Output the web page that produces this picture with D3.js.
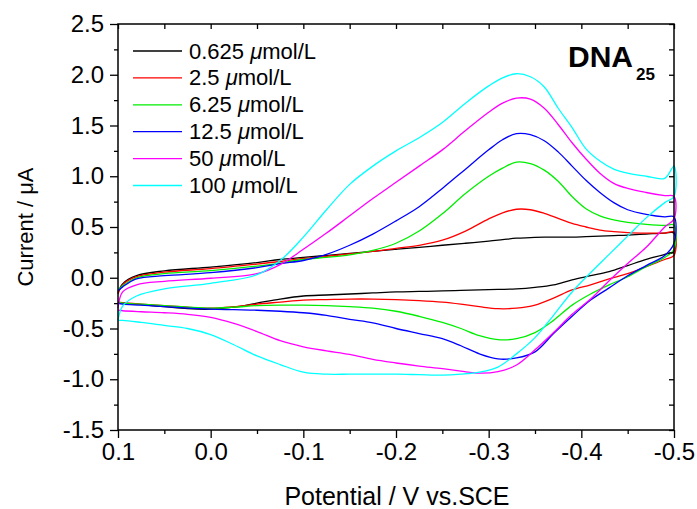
<!DOCTYPE html>
<html><head><meta charset="utf-8">
<script src="https://cdn.jsdelivr.net/npm/d3@7"></script>
<style>body{margin:0;background:#fff}</style>
</head><body>
<svg id="c" width="697" height="509"></svg>
<script>
// ---------- data ----------
const seriesLabels = ["0.625", "2.5", "6.25", "12.5", "50", "100"];
const seriesColors = ["#000000", "#ff0000", "#00ee00", "#0000ff", "#ff00ff", "#00ffff"];

const forwardPotential = [0.1, 0.095, 0.08, 0.05, 0.0, -0.05, -0.075, -0.1, -0.125, -0.15, -0.175, -0.2, -0.225, -0.25, -0.275, -0.3, -0.315, -0.33, -0.345, -0.36, -0.375, -0.39, -0.405, -0.42, -0.435, -0.45, -0.47, -0.49, -0.5];
const reversePotential = [-0.5, -0.49, -0.47, -0.45, -0.43, -0.41, -0.39, -0.37, -0.35, -0.33, -0.31, -0.29, -0.27, -0.25, -0.225, -0.2, -0.175, -0.15, -0.125, -0.1, -0.075, -0.05, -0.025, 0.0, 0.025, 0.05, 0.075, 0.095, 0.1];

const fwd0625 = [-0.15, -0.06, 0.02, 0.068, 0.105, 0.15, 0.18, 0.2, 0.22, 0.24, 0.26, 0.28, 0.3, 0.32, 0.34, 0.36, 0.375, 0.39, 0.395, 0.4, 0.4, 0.4, 0.405, 0.41, 0.415, 0.42, 0.43, 0.44, 0.44];
const rev0625 = [0.26, 0.23, 0.18, 0.12, 0.06, 0.02, -0.02, -0.07, -0.095, -0.11, -0.115, -0.12, -0.125, -0.13, -0.135, -0.14, -0.15, -0.16, -0.17, -0.18, -0.21, -0.25, -0.29, -0.31, -0.305, -0.285, -0.265, -0.25, -0.24];

const fwd25 = [-0.16, -0.07, 0.01, 0.055, 0.09, 0.135, 0.16, 0.19, 0.21, 0.235, 0.26, 0.29, 0.32, 0.37, 0.46, 0.58, 0.64, 0.675, 0.67, 0.635, 0.585, 0.535, 0.5, 0.47, 0.455, 0.445, 0.44, 0.44, 0.45];
const rev25 = [0.22, 0.18, 0.11, 0.04, -0.01, -0.07, -0.12, -0.2, -0.27, -0.3, -0.305, -0.285, -0.26, -0.24, -0.225, -0.215, -0.21, -0.21, -0.215, -0.22, -0.24, -0.26, -0.285, -0.3, -0.29, -0.275, -0.26, -0.245, -0.24];

const fwd625 = [-0.12, -0.08, 0.0, 0.04, 0.07, 0.115, 0.145, 0.18, 0.2, 0.225, 0.27, 0.34, 0.46, 0.63, 0.83, 1.0, 1.08, 1.14, 1.125, 1.06, 0.95, 0.8, 0.68, 0.61, 0.57, 0.545, 0.525, 0.515, 0.52];
const rev625 = [0.28, 0.2, 0.11, 0.01, -0.07, -0.16, -0.27, -0.42, -0.54, -0.6, -0.61, -0.57, -0.5, -0.44, -0.38, -0.33, -0.3, -0.285, -0.275, -0.27, -0.27, -0.275, -0.29, -0.3, -0.29, -0.275, -0.26, -0.25, -0.24];

const fwd125 = [-0.13, -0.09, -0.01, 0.02, 0.05, 0.1, 0.14, 0.17, 0.23, 0.32, 0.43, 0.56, 0.7, 0.88, 1.07, 1.26, 1.36, 1.42, 1.41, 1.35, 1.24, 1.1, 0.96, 0.84, 0.74, 0.67, 0.625, 0.6, 0.6];
const rev125 = [0.34, 0.22, 0.12, 0.02, -0.1, -0.22, -0.38, -0.55, -0.73, -0.79, -0.8, -0.75, -0.67, -0.6, -0.55, -0.5, -0.445, -0.41, -0.37, -0.345, -0.33, -0.32, -0.315, -0.31, -0.3, -0.285, -0.27, -0.26, -0.25];

const fwd50 = [-0.3, -0.14, -0.07, -0.035, -0.005, 0.04, 0.13, 0.28, 0.44, 0.61, 0.78, 0.94, 1.1, 1.26, 1.45, 1.63, 1.72, 1.77, 1.76, 1.67, 1.51, 1.33, 1.17, 1.03, 0.93, 0.88, 0.84, 0.81, 0.8];
const rev50 = [0.58, 0.5, 0.3, 0.14, -0.03, -0.21, -0.36, -0.54, -0.71, -0.86, -0.925, -0.94, -0.92, -0.895, -0.87, -0.84, -0.805, -0.755, -0.72, -0.68, -0.62, -0.53, -0.45, -0.39, -0.36, -0.345, -0.335, -0.325, -0.32];

const fwd100 = [-0.42, -0.28, -0.18, -0.11, -0.055, 0.03, 0.17, 0.4, 0.67, 0.92, 1.1, 1.25, 1.38, 1.53, 1.72, 1.89, 1.97, 2.01, 1.98, 1.88, 1.67, 1.48, 1.27, 1.15, 1.07, 1.03, 1.0, 0.98, 1.1];
const rev100 = [0.8, 0.74, 0.59, 0.41, 0.23, 0.05, -0.14, -0.37, -0.59, -0.75, -0.88, -0.93, -0.95, -0.96, -0.955, -0.95, -0.95, -0.95, -0.95, -0.93, -0.855, -0.77, -0.66, -0.56, -0.5, -0.47, -0.44, -0.42, -0.42];

const forwardCurrents = [fwd0625, fwd25, fwd625, fwd125, fwd50, fwd100];
const reverseCurrents = [rev0625, rev25, rev625, rev125, rev50, rev100];

const xTicks = [0.1, 0.0, -0.1, -0.2, -0.3, -0.4, -0.5];
const xTickLabels = ["0.1", "0.0", "-0.1", "-0.2", "-0.3", "-0.4", "-0.5"];
const xMinorTicks = [0.05, -0.05, -0.15, -0.25, -0.35, -0.45];
const yTicks = [2.5, 2.0, 1.5, 1.0, 0.5, 0.0, -0.5, -1.0, -1.5];
const yTickLabels = ["2.5", "2.0", "1.5", "1.0", "0.5", "0.0", "-0.5", "-1.0", "-1.5"];
const yMinorTicks = [2.25, 1.75, 1.25, 0.75, 0.25, -0.25, -0.75, -1.25];

// ---------- layout ----------
const FONT = "Arial, 'Liberation Sans', sans-serif";
const L = 118, R = 674, T = 24, B = 430;
const svg = d3.select("#c");
const x = d3.scaleLinear().domain([0.1, -0.5]).range([L, R]);
const y = d3.scaleLinear().domain([-1.5, 2.5]).range([B, T]);

// curves
const line = d3.line().x(d => x(d[0])).y(d => y(d[1])).curve(d3.curveCatmullRom.alpha(0.5));
const gCurves = svg.append("g");
seriesLabels.forEach((lab, i) => {
  const pts = forwardPotential.map((p, j) => [p, forwardCurrents[i][j]])
    .concat(reversePotential.map((p, j) => [p, reverseCurrents[i][j]]));
  gCurves.append("path").attr("d", line(pts)).attr("fill", "none")
    .attr("stroke", seriesColors[i]).attr("stroke-width", 1.3).attr("stroke-linejoin", "round");
});

// axes
function styleAxis(g) {
  g.select(".domain").remove();
  g.selectAll("line").attr("stroke", "#000").attr("stroke-width", 1.3);
  g.selectAll("text").attr("font-family", FONT).attr("font-size", 24).attr("fill", "#000");
}
svg.append("g").attr("transform", `translate(0,${B})`)
  .call(d3.axisBottom(x).tickValues(xTicks).tickFormat((d, i) => xTickLabels[i]).tickSize(8).tickPadding(5)).call(styleAxis);
svg.append("g").attr("transform", `translate(0,${B})`)
  .call(d3.axisBottom(x).tickValues(xMinorTicks).tickFormat("").tickSize(4)).call(styleAxis);
svg.append("g").attr("transform", `translate(${L},0)`)
  .call(d3.axisLeft(y).tickValues(yTicks).tickFormat((d, i) => yTickLabels[i]).tickSize(8).tickPadding(6)).call(styleAxis);
svg.append("g").attr("transform", `translate(${L},0)`)
  .call(d3.axisLeft(y).tickValues(yMinorTicks).tickFormat("").tickSize(4)).call(styleAxis);
// mirrored inward ticks top / right
svg.append("g").attr("transform", `translate(0,${T})`)
  .call(d3.axisTop(x).tickValues(xTicks.concat(xMinorTicks)).tickFormat("").tickSize(-5)).call(styleAxis);
svg.append("g").attr("transform", `translate(${R},0)`)
  .call(d3.axisRight(y).tickValues(yTicks.concat(yMinorTicks)).tickFormat("").tickSize(-5)).call(styleAxis);

// frame
svg.append("rect").attr("x", L).attr("y", T).attr("width", R - L).attr("height", B - T)
  .attr("fill", "none").attr("stroke", "#000").attr("stroke-width", 1.5);

// axis titles
svg.append("text").attr("x", 397).attr("y", 505).attr("text-anchor", "middle")
  .attr("font-family", FONT).attr("font-size", 25).text("Potential / V vs.SCE");
svg.append("text").attr("transform", "translate(33,227) rotate(-90)").attr("text-anchor", "middle")
  .attr("font-family", FONT).attr("font-size", 22).text("Current / μA");

// legend
const gLeg = svg.append("g");
seriesLabels.forEach((lab, i) => {
  const cy = 51 + i * 26.9;
  gLeg.append("line").attr("x1", 133).attr("x2", 182).attr("y1", cy).attr("y2", cy)
    .attr("stroke", seriesColors[i]).attr("stroke-width", 1.3);
  const t = gLeg.append("text").attr("x", 189).attr("y", cy + 7.5)
    .attr("font-family", FONT).attr("font-size", 22);
  t.append("tspan").text(lab + " ");
  t.append("tspan").attr("font-style", "italic").text("μ");
  t.append("tspan").text("mol/L");
});

// annotation
svg.append("text").attr("x", 568).attr("y", 67).attr("font-family", FONT)
  .attr("font-weight", "bold").attr("font-size", 30).text("DNA");
svg.append("text").attr("x", 636).attr("y", 80).attr("font-family", FONT)
  .attr("font-weight", "bold").attr("font-size", 17).text("25");
</script>
</body></html>
